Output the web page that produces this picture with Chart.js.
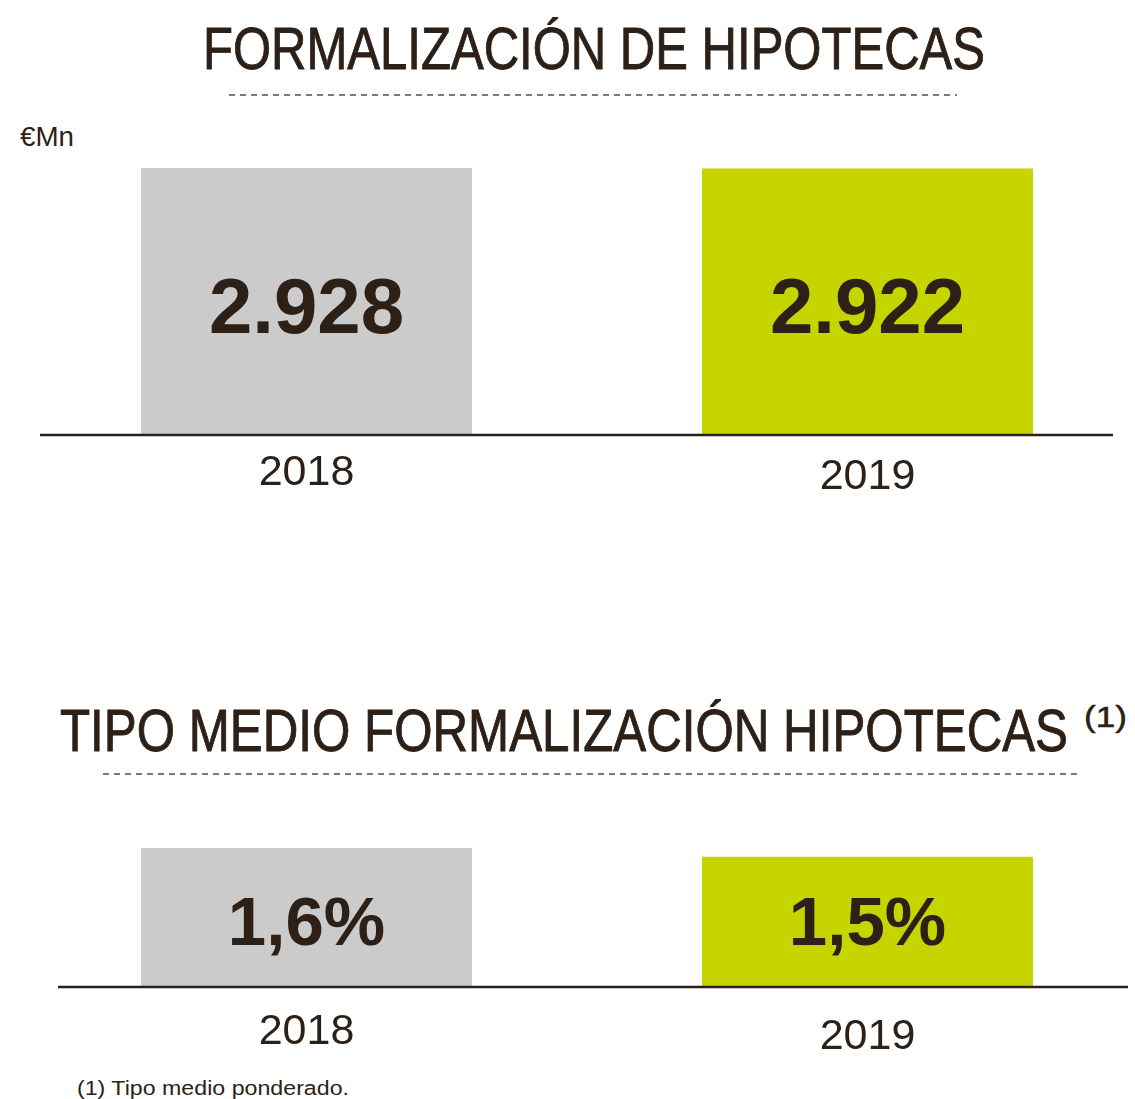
<!DOCTYPE html>
<html>
<head>
<meta charset="utf-8">
<script src="https://cdn.jsdelivr.net/npm/chart.js@4/dist/chart.umd.min.js"></script>
<style>
  html, body { margin: 0; padding: 0; overflow: hidden; background: #fff; }
  body { width: 1135px; height: 1099px; position: relative; font-family: "Liberation Sans", Arial, sans-serif; color: #2d2117; }
  .txt { position: absolute; white-space: nowrap; line-height: 1; transform-origin: 0 0; }
  .head { -webkit-text-stroke: 0.9px #2d2117; }
  .dash { position: absolute; height: 2px; background-image: repeating-linear-gradient(to right, #8b765f 0 6px, transparent 6px 11px); }
  canvas { position: absolute; left: 0; }
</style>
</head>
<body>
<div class="txt head" id="t1" data-w="782" style="left:203px;top:19px;font-size:60px;">FORMALIZACIÓN DE HIPOTECAS</div>
<div class="dash" style="left:229px;top:94px;width:728px;"></div>
<div class="txt" id="unit" data-w="54" style="left:20px;top:123px;font-size:28px;">€Mn</div>
<canvas id="amountChart" width="1150" height="360" style="top:150px;"></canvas>

<div class="txt head" id="t2" data-w="1008" style="left:60px;top:701px;font-size:60px;">TIPO MEDIO FORMALIZACIÓN HIPOTECAS</div>
<div class="txt head" id="sup" data-w="43" style="left:1084px;top:702px;font-size:30px;-webkit-text-stroke:0.5px #2d2117;">(1)</div>
<div class="dash" style="left:103px;top:773px;width:978px;"></div>
<canvas id="rateChart" width="1150" height="240" style="top:830px;"></canvas>
<div class="txt" id="note" data-w="272" style="left:77px;top:1078px;font-size:20px;">(1) Tipo medio ponderado.</div>

<script>
(function () {
    const years = ['2018', '2019'];
    const amountValues = [2928, 2922];
    const amountLabels = ['2.928', '2.922'];
    const rateValues = [1.6, 1.5];
    const rateLabels = ['1,6%', '1,5%'];
    const barColors = ['#cbcbcb', '#c6d500'];
    const textColor = '#2d2117';

    // fit html text to the measured width of the reference
    document.querySelectorAll('.txt').forEach(function (el) {
        const w = el.getBoundingClientRect().width;
        el.style.transform = 'scaleX(' + (parseFloat(el.dataset.w) / w) + ')';
    });

    // values inside bars + baseline line
    const barText = {
        id: 'barText',
        afterDatasetsDraw: function (chart, args, opts) {
            const ctx = chart.ctx;
            const y0 = chart.scales.y.getPixelForValue(0);
            ctx.save();
            ctx.strokeStyle = textColor;
            ctx.lineWidth = 2.6;
            ctx.beginPath();
            ctx.moveTo(opts.lineFrom, y0 + 1);
            ctx.lineTo(opts.lineTo, y0 + 1);
            ctx.stroke();
            ctx.fillStyle = textColor;
            ctx.font = 'bold ' + opts.size + 'px "Liberation Sans", Arial, sans-serif';
            ctx.textAlign = 'center';
            ctx.textBaseline = 'alphabetic';
            chart.getDatasetMeta(0).data.forEach(function (bar, i) {
                ctx.fillText(opts.labels[i], bar.x, y0 - opts.lift);
            });
            ctx.restore();
        }
    };

    function makeChart(id, values, labels, o) {
        return new Chart(document.getElementById(id), {
            type: 'bar',
            data: {
                labels: years,
                datasets: [{
                    data: values,
                    backgroundColor: barColors,
                    borderWidth: 0,
                    barPercentage: 0.59,
                    categoryPercentage: 1
                }]
            },
            options: {
                responsive: false,
                animation: false,
                layout: { padding: { left: 26, right: 2, top: 18, bottom: 0 } },
                plugins: {
                    legend: { display: false },
                    tooltip: { enabled: false },
                    barText: { labels: labels, size: o.size, lift: o.lift, lineFrom: o.lineFrom, lineTo: o.lineTo }
                },
                scales: {
                    x: {
                        grid: { display: false, drawTicks: false },
                        border: { display: false },
                        ticks: {
                            color: textColor,
                            padding: o.tickPad,
                            font: function (c) {
                                return { family: '"Liberation Sans", Arial, sans-serif', size: 43, lineHeight: c.index === 1 ? o.lh2 : 1.2 };
                            }
                        },
                        afterFit: function (s) { s.height = o.axisH; }
                    },
                    y: {
                        display: false,
                        min: 0,
                        max: Math.max.apply(null, values)
                    }
                }
            },
            plugins: [barText]
        });
    }

    makeChart('amountChart', amountValues, amountLabels,
        { size: 78, lift: 101, lineFrom: 40, lineTo: 1113, tickPad: 13, lh2: 1.41, axisH: 76 });
    makeChart('rateChart', rateValues, rateLabels,
        { size: 69, lift: 41, lineFrom: 58, lineTo: 1128, tickPad: 20, lh2: 1.45, axisH: 84 });
})();
</script>
</body>
</html>
